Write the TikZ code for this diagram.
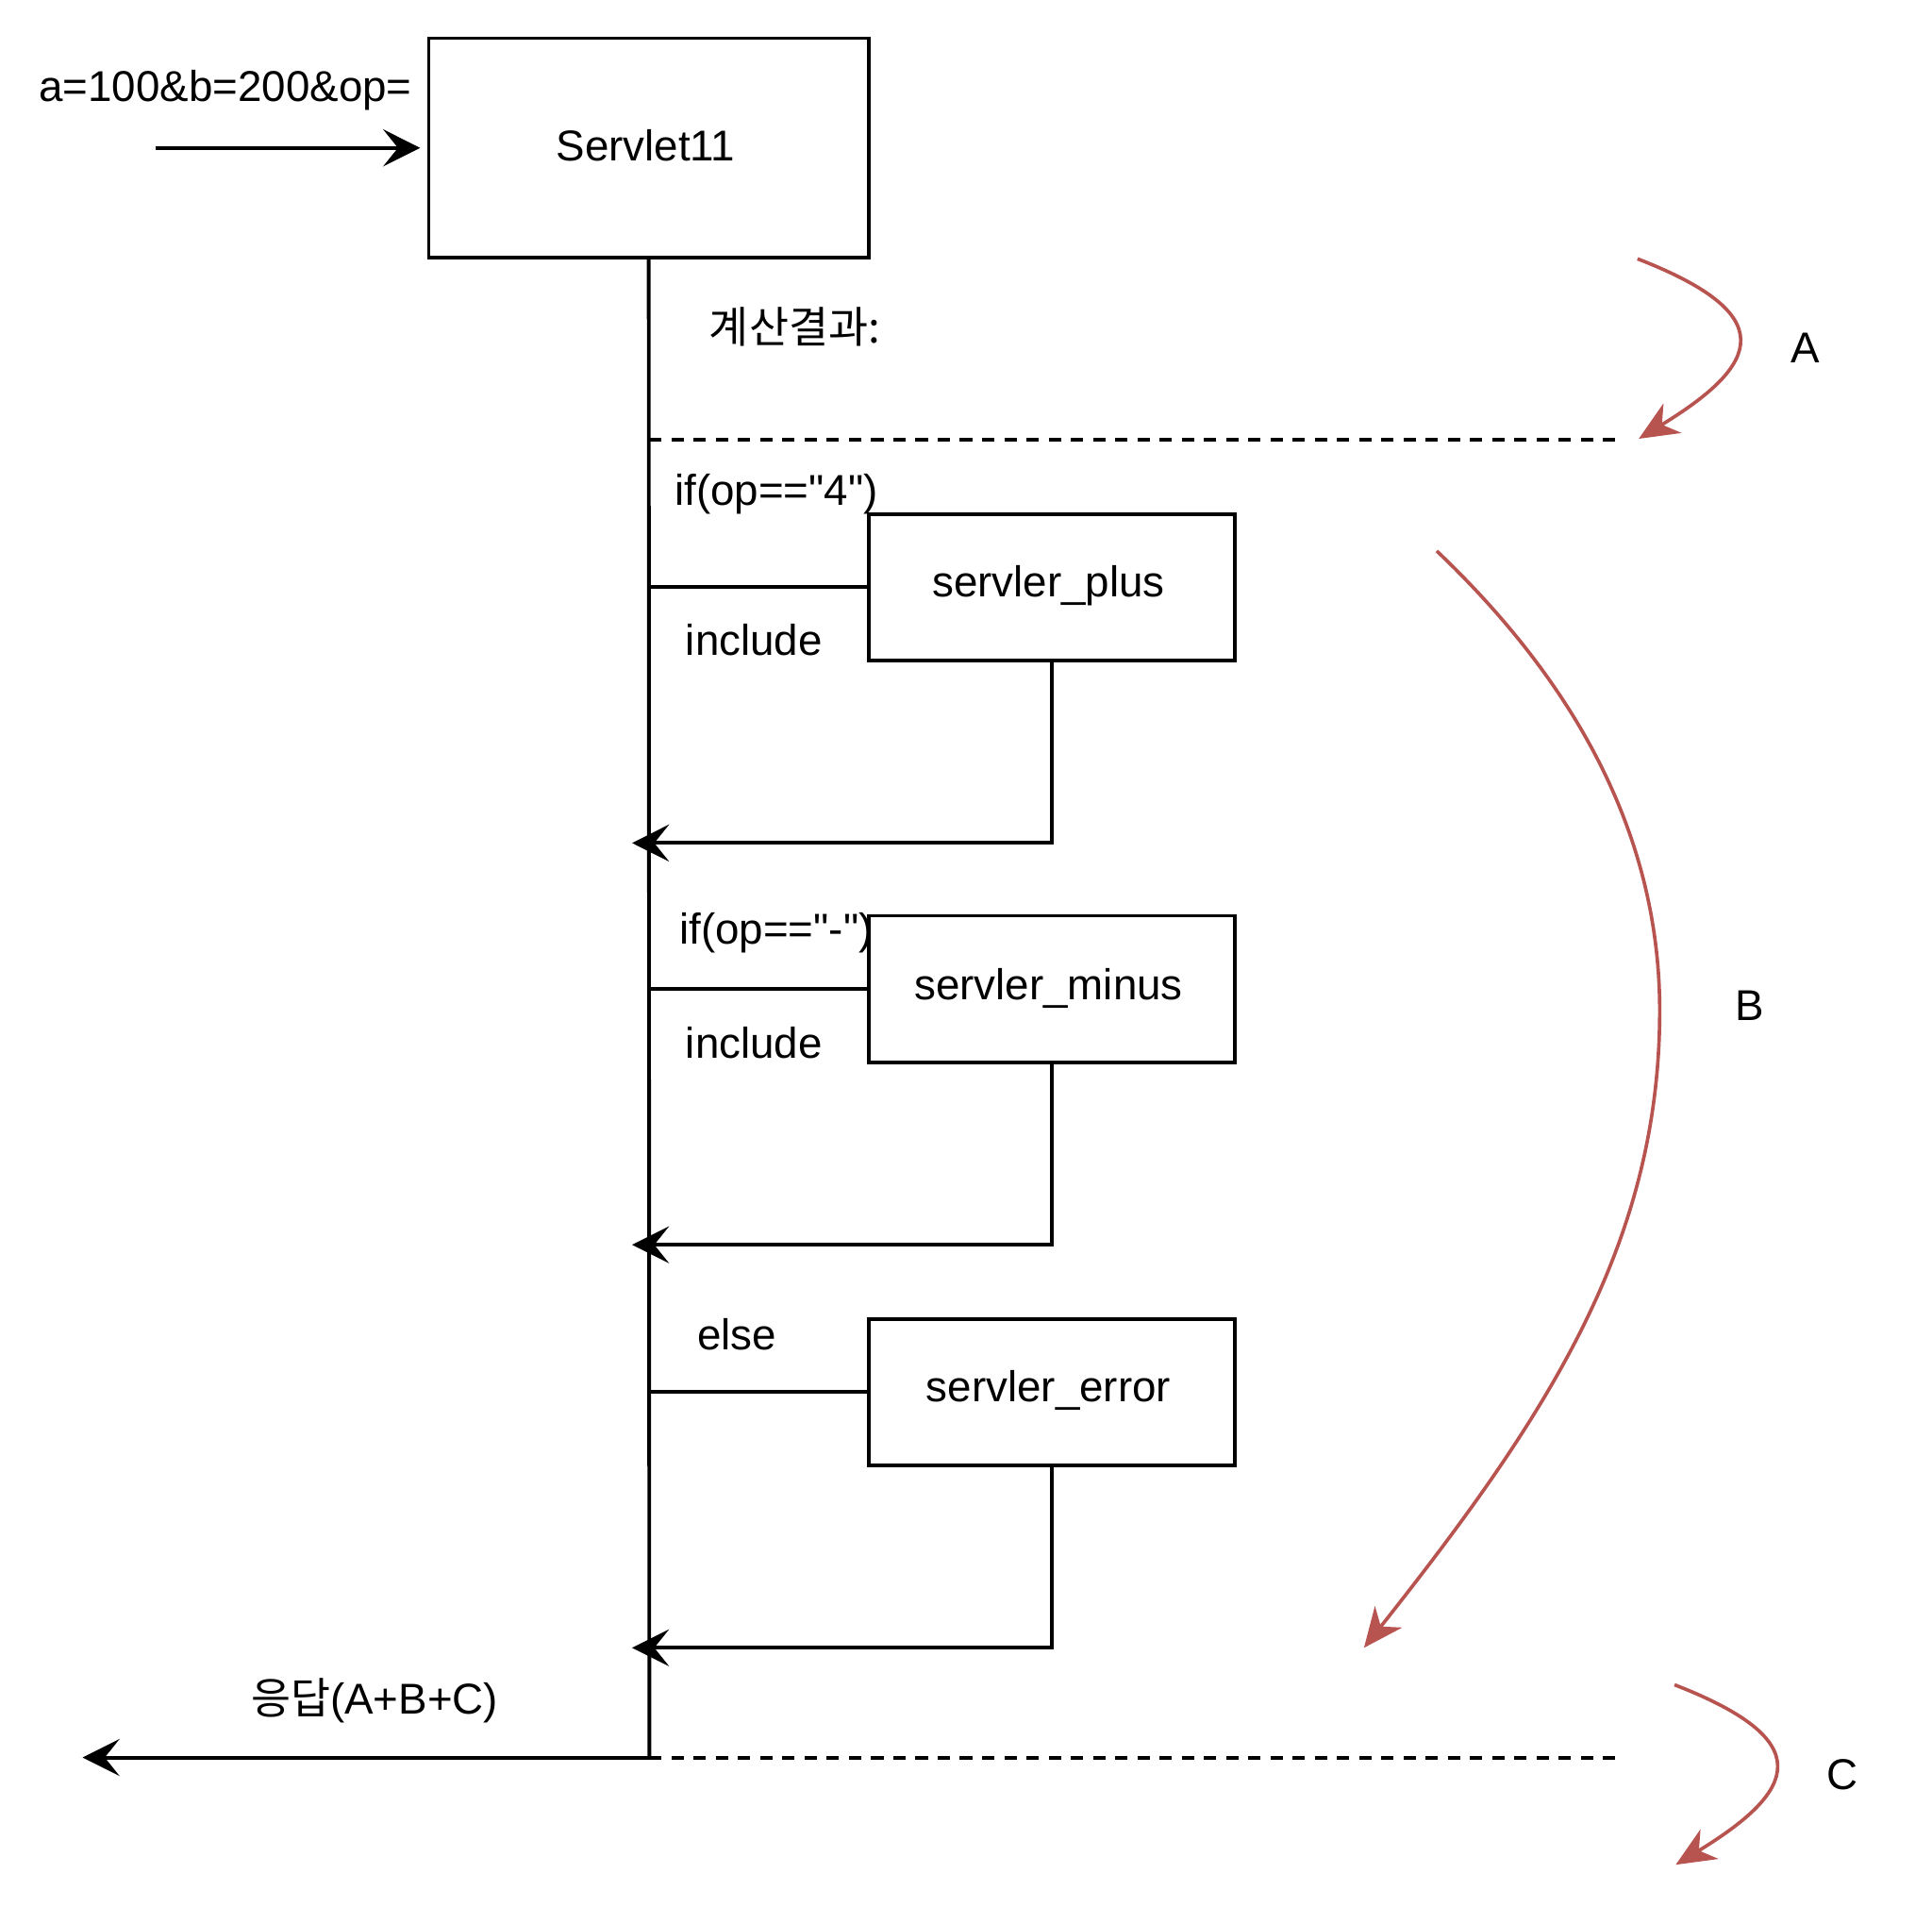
\documentclass[tikz,border=0pt]{standalone}
\usepackage{fontspec}
\setmainfont{Liberation Sans}[Ligatures=TeXOff]
\newfontfamily\kr{Noto Sans CJK KR}
\usetikzlibrary{arrows.meta}
\definecolor{redline}{HTML}{B85450}
\tikzset{
  every node/.style={font=\fontsize{35}{40}\selectfont, inner sep=0pt},
  box/.style={draw, line width=3pt, minimum width=357pt, minimum height=178pt},
  subbox/.style={draw, line width=3pt, minimum width=297pt, minimum height=119pt},
  wire/.style={line width=3pt},
  blackarrow/.style={line width=3pt, -{Stealth[length=30pt, width=30pt, inset=12pt]}},
  dashline/.style={line width=3pt, dash pattern=on 10pt off 8pt},
  redarrow/.style={draw=redline, line width=2.8pt, -{Stealth[length=32pt, width=28pt, inset=10pt]}, fill=none}
}
\begin{document}
\begin{tikzpicture}[x=1pt, y=-1pt]
\useasboundingbox (0,0) rectangle (1568,1547);

% main box
\node[box] (servlet) at (526.5,120) {};
\node (servlettext) at (524,118) {Servlet11};

% input
\node (query) at (183,73) {a=100\&b=200\&op=};
\coordinate (instart) at (126,120);
\coordinate (inend) at (341,120);
\draw[blackarrow] (instart) -- (inend);

% lifeline
\coordinate (lifeend) at (527,1426);
\draw[wire] (servlet.south) -- (lifeend);

\node (calc) at (645,265) {\kr 계산결과:};

% dashed lines
\coordinate (dashAend) at (1315,357);
\coordinate (dashAstart) at (527,357);
\draw[dashline] (dashAstart) -- (dashAend);
\coordinate (dashCend) at (1315,1426);
\draw[dashline] (lifeend) -- (dashCend);

% sub boxes
\node[subbox] (plus) at (853.5,476.5) {};
\node (plustext) at (851,475) {servler\_plus};
\node[subbox] (minus) at (853.5,802.5) {};
\node (minustext) at (851,802) {servler\_minus};
\node[subbox] (error) at (853.5,1129.5) {};
\node (errortext) at (851,1128) {servler\_error};

% branch lines
\draw[wire] (plus.west -| servlet.south) -- (plus.west);
\draw[wire] (minus.west -| servlet.south) -- (minus.west);
\draw[wire] (error.west -| servlet.south) -- (error.west);

% return arrows
\coordinate (ret1) at (513,684);
\coordinate (ret2) at (513,1010);
\coordinate (ret3) at (513,1337);
\draw[blackarrow] (plus.south) |- (ret1);
\draw[blackarrow] (minus.south) |- (ret2);
\draw[blackarrow] (error.south) |- (ret3);

% labels
\node (if1) at (630,401) {if(op=="4")};
\node (inc1) at (612,519) {include};
\node (if2) at (630,757) {if(op=="-")};
\node (inc2) at (612,846) {include};
\node (else) at (598,1083) {else};

% response
\coordinate (respend) at (67,1426);
\draw[blackarrow] (lifeend) -- (respend);
\node (resp) at (304,1380) {{\kr 응답}(A+B+C)};

% red arrows
\coordinate (a1) at (1329,210);
\coordinate (a2) at (1330,356);
\draw[redarrow] (a1) .. controls (1445,255) and (1430,295) .. (a2);
\node (labA) at (1465,282) {A};

\coordinate (b1) at (1166,447);
\coordinate (bmid) at (1347,820);
\coordinate (b2) at (1107,1337);
\draw[redarrow] (b1) .. controls (1290,565) and (1347,690) .. (bmid) .. controls (1347,1010) and (1255,1150) .. (b2);
\node (labB) at (1420,816) {B};

\coordinate (c1) at (1359,1367);
\coordinate (c2) at (1360,1513);
\draw[redarrow] (c1) .. controls (1475,1412) and (1460,1452) .. (c2);
\node (labC) at (1495,1440) {C};
\end{tikzpicture}
\end{document}
